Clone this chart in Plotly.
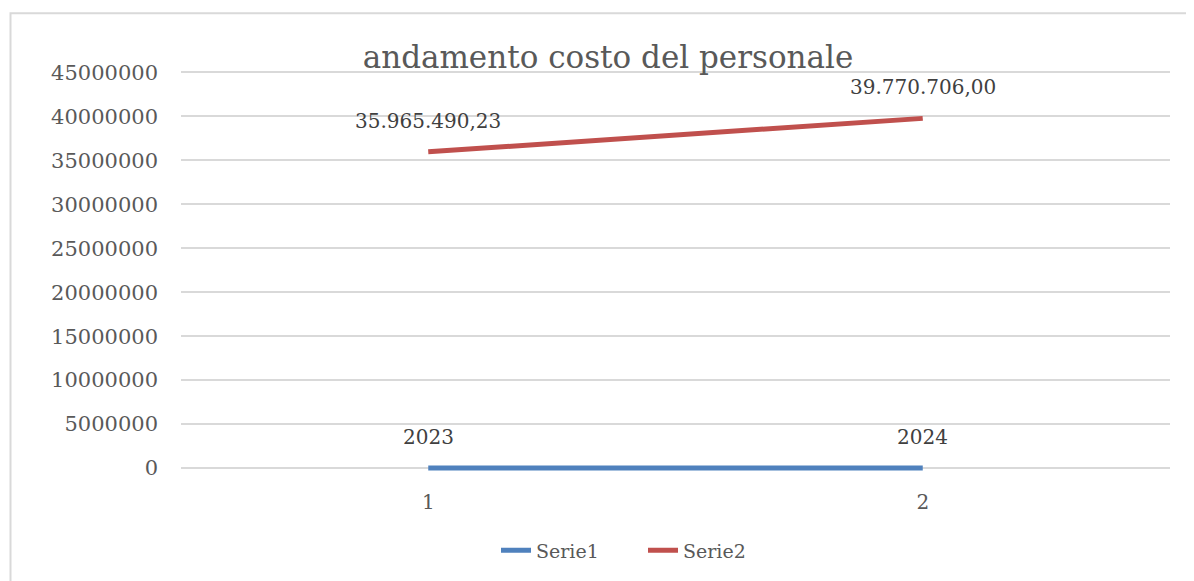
import plotly.graph_objects as go

categories = [1, 2]
serie1 = [2023, 2024]
serie2 = [35965490.23, 39770706.00]
serie1_labels = ["2023", "2024"]
serie2_labels = ["35.965.490,23", "39.770.706,00"]
y_ticks = [0, 5000000, 10000000, 15000000, 20000000, 25000000, 30000000, 35000000, 40000000, 45000000]

FONT = "DejaVu Serif"
OFF = 8  # default page body margin
W, H = 1194 - OFF, 581 - OFF
# reference pixel positions (page coords) of y=0 and y=45M, and plot left/right
L, R = 181 - OFF, 1170 - OFF
Y0, Y45 = 468.5 - OFF, 72.7 - OFF
YMIN, YMAX = -2500000, 45500000
scale = (Y0 - Y45) / 45000000.0
B = Y0 + (0 - YMIN) * scale
T = Y45 - (YMAX - 45000000) * scale

fig = go.Figure()
fig.add_trace(go.Scatter(x=categories, y=serie1, mode="lines", name="Serie1",
                         line=dict(color="#4F81BD", width=5)))
fig.add_trace(go.Scatter(x=categories, y=serie2, mode="lines", name="Serie2",
                         line=dict(color="#C0504D", width=5)))

for xs, ys, labels in [(categories, serie1, serie1_labels), (categories, serie2, serie2_labels)]:
    for x, y, t in zip(xs, ys, labels):
        fig.add_annotation(x=x, y=y, text=t, showarrow=False, yshift=31,
                           font=dict(family=FONT, size=20, color="#404040"))

def px_x(p):
    return (p - OFF - L) / (R - L)

def px_y(p):
    return (B - (p - OFF)) / (B - T)

fig.add_shape(type="rect", xref="paper", yref="paper",
              x0=px_x(10.5), x1=px_x(1210), y0=px_y(610), y1=px_y(13.5),
              line=dict(color="#D9D9D9", width=2), fillcolor="rgba(0,0,0,0)", layer="below")

fig.update_layout(
    width=W, height=H,
    margin=dict(l=L, r=W - R, t=T, b=H - B, pad=0),
    paper_bgcolor="white", plot_bgcolor="white",
    title=dict(text="andamento costo del personale", x=px_x(608), xanchor="center", xref="paper",
               y=1 - (57 - OFF) / H, yanchor="middle",
               font=dict(family=FONT, size=31, color="#595959")),
    xaxis=dict(range=[0.5, 2.5], tickvals=categories, ticktext=[str(c) for c in categories],
               showgrid=False, zeroline=False, showline=False, ticks="", ticklen=0,
               ticklabelstandoff=-2,
               tickfont=dict(family=FONT, size=20, color="#595959")),
    yaxis=dict(range=[YMIN, YMAX], tickvals=y_ticks, ticktext=[str(v) for v in y_ticks],
               showgrid=True, gridcolor="#D9D9D9", gridwidth=1.5, zeroline=False,
               showline=False, ticks="", ticklabelstandoff=22,
               tickfont=dict(family=FONT, size=21, color="#595959")),
    legend=dict(orientation="h", x=px_x(496), xanchor="left", y=px_y(551), yanchor="middle",
                entrywidth=102, entrywidthmode="pixels",
                font=dict(family=FONT, size=19, color="#595959")),
    showlegend=True,
)

fig.write_html("out.html")
